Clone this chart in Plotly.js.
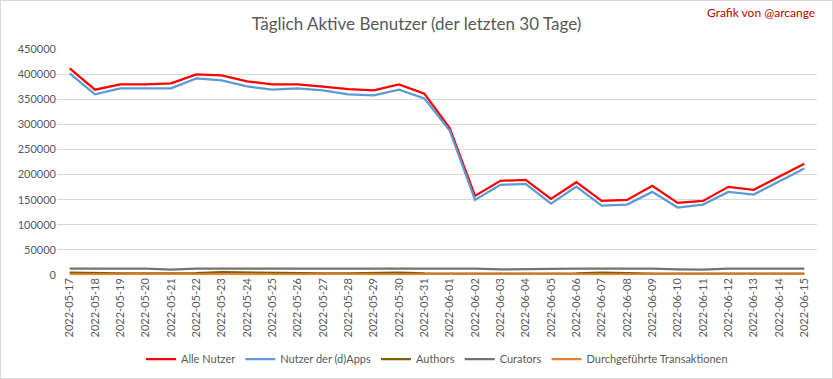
<!DOCTYPE html>
<html>
<head>
<meta charset="utf-8">
<script src="https://cdn.plot.ly/plotly-3.0.1.min.js"></script>
<style>
html,body{margin:0;padding:0;background:#fff;}
#wrap{width:833px;height:379px;box-sizing:border-box;border:1px solid #d9d9d9;}
#chart{width:831px;height:377px;}
</style>
</head>
<body>
<div id="wrap"><div id="chart"></div></div>
<script>
const dates = ["2022-05-17","2022-05-18","2022-05-19","2022-05-20","2022-05-21","2022-05-22","2022-05-23","2022-05-24","2022-05-25","2022-05-26","2022-05-27","2022-05-28","2022-05-29","2022-05-30","2022-05-31","2022-06-01","2022-06-02","2022-06-03","2022-06-04","2022-06-05","2022-06-06","2022-06-07","2022-06-08","2022-06-09","2022-06-10","2022-06-11","2022-06-12","2022-06-13","2022-06-14","2022-06-15"];
const alleNutzer = [411500,369000,379500,379500,381500,399500,397500,385500,379500,379500,375000,370000,367500,379500,361000,292500,157500,187400,189400,151500,184800,147600,149600,177500,143600,147600,175500,169500,195400,221300];
const dappsNutzer = [401500,359600,371600,371600,371600,391500,387500,375500,369000,371600,367600,359600,357600,369000,351600,287800,149600,179500,181500,142200,176100,138300,140300,165500,134300,140300,165500,160200,186100,212000];
const authors = [4500,3000,3000,3000,3000,3500,5500,5000,3000,3000,3000,3000,3500,4500,3000,2500,2000,2500,2500,2500,3000,4500,3000,2500,2500,2500,2500,2500,2500,2500];
const curators = [12500,12500,12500,12500,10500,12500,12500,12500,12500,12500,12500,12500,12500,12500,12500,12500,12500,11000,11000,12000,12500,12500,12500,12500,11000,10500,12500,12500,12500,12500];
const transaktionen = [1500,1500,1500,1500,1500,1500,1500,1500,1500,1500,1500,1500,1500,1500,1500,1500,1500,1500,1500,1500,1500,1500,1500,1500,1500,1500,1500,1500,1500,1500];
const yTickVals = [0,50000,100000,150000,200000,250000,300000,350000,400000,450000];

const font = "Lato, 'Open Sans', sans-serif";
const traces = [
  {name:"Alle Nutzer", x:dates, y:alleNutzer, mode:"lines", line:{color:"#ff0000", width:2.25}},
  {name:"Nutzer der (d)Apps", x:dates, y:dappsNutzer, mode:"lines", line:{color:"#5b9bd5", width:2.25}},
  {name:"Authors", x:dates, y:authors, mode:"lines", line:{color:"#7f6000", width:2.25}},
  {name:"Curators", x:dates, y:curators, mode:"lines", line:{color:"#767171", width:2.25}},
  {name:"Durchgeführte Transaktionen", x:dates, y:transaktionen, mode:"lines", line:{color:"#ed7d31", width:2.25}}
];
const layout = {
  width:831, height:377,
  margin:{l:56, r:15, t:48, b:103, autoexpand:false},
  paper_bgcolor:"#fff", plot_bgcolor:"#fff",
  font:{family:font, size:11, color:"#595959"},
  title:{text:"Täglich Aktive Benutzer (der letzten 30 Tage)", x:0.5, xanchor:"center", y:0.94, yanchor:"middle", font:{family:font, size:17, color:"#595959"}},
  xaxis:{type:"category", range:[-0.5, 29.5], tickangle:-90, showgrid:false, showline:false, zeroline:false, ticks:"", tickfont:{size:11, color:"#595959"}, automargin:false},
  yaxis:{range:[0,450000], tickvals:yTickVals, ticktext:yTickVals.map(String), showgrid:true, gridcolor:"#d9d9d9", gridwidth:1, zeroline:false, showline:false, ticks:"", tickfont:{size:11, color:"#595959"}, automargin:false},
  showlegend:true,
  legend:{orientation:"h", x:0.5, xanchor:"center", yref:"container", y:0.05, yanchor:"middle", font:{size:11, color:"#595959"}, itemwidth:30, traceorder:"normal"},
  annotations:[{text:"Grafik von @arcange", xref:"paper", yref:"paper", x:1.0, xanchor:"right", y:1.16, yanchor:"middle", showarrow:false, font:{family:font, size:12, color:"#c00000"}}]
};
Plotly.newPlot("chart", traces, layout, {displayModeBar:false, staticPlot:true});
</script>
</body>
</html>
